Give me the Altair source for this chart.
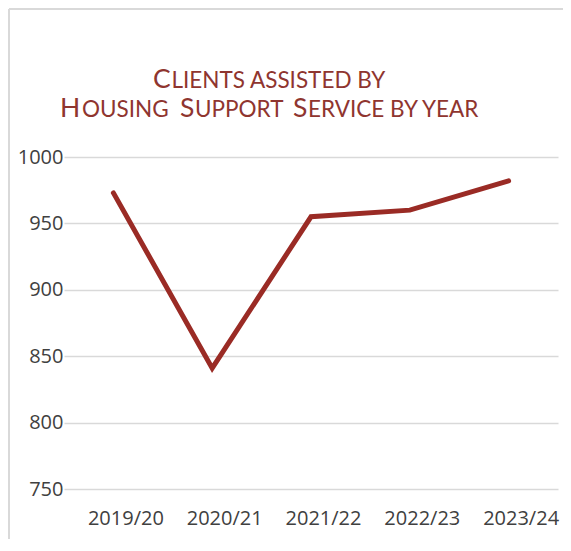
import altair as alt
import pandas as pd

years = ["2019/20", "2020/21", "2021/22", "2022/23", "2023/24"]
clients = [973, 841, 955, 960, 982]
y_ticks = [750, 800, 850, 900, 950, 1000]

TITLE_COLOR = "#8f352f"
LINE_COLOR = "#9a2b25"
GRID = "#d9d9d9"

df = pd.DataFrame({"year": years, "clients": clients})
one = pd.DataFrame({"k": [0]})

W, H = 494, 332

line = alt.Chart(df).mark_line(
    color=LINE_COLOR, strokeWidth=5, strokeCap="round"
).encode(
    x=alt.X("year:N", sort=years, scale=alt.Scale(padding=0.5),
            axis=alt.Axis(title=None, labelAngle=0, grid=False, domain=False,
                          ticks=False, labelPadding=19, labelOffset=12,
                          labelFont="Open Sans", labelFontSize=20,
                          labelColor="#404040")),
    y=alt.Y("clients:Q", scale=alt.Scale(domain=[750, 1000], nice=False, zero=False),
            axis=alt.Axis(title=None, values=y_ticks, format="d", grid=True,
                          gridColor=GRID, gridWidth=1.5, domain=False, ticks=False,
                          labelPadding=1, labelFont="Open Sans", labelFontSize=20,
                          labelColor="#404040")),
)

# title written in small caps: large initials + smaller capitals
BIG, SMALL = 26.5, 22.5
L1, L2 = -68.7, -40.3
segments = [
    ("C", BIG, 89, L1),
    ("LIENTS ASSISTED BY", SMALL, 107.5, L1),
    ("H", BIG, -4, L2),
    ("OUSING", SMALL, 18, L2),
    ("S", BIG, 116, L2),
    ("UPPORT", SMALL, 131, L2),
    ("S", BIG, 229, L2),
    ("ERVICE BY YEAR", SMALL, 244, L2),
]
title_layers = [
    alt.Chart(one).mark_text(
        text=t, font="Lato", fontSize=s, color=TITLE_COLOR,
        align="left", baseline="alphabetic"
    ).encode(x=alt.value(x), y=alt.value(y))
    for t, s, x, y in segments
]

frame_top = alt.Chart(one).mark_rule(color=GRID, strokeWidth=2).encode(
    x=alt.value(-55), x2=alt.value(600), y=alt.value(-148)
)
frame_left = alt.Chart(one).mark_rule(color=GRID, strokeWidth=2).encode(
    x=alt.value(-55), y=alt.value(-148), y2=alt.value(600)
)

chart = alt.layer(frame_top, frame_left, line, *title_layers).properties(
    width=W, height=H,
    autosize=alt.AutoSizeParams(type="none"),
    padding={"left": 56, "top": 149, "right": 5, "bottom": 50},
    background="white",
).configure_view(stroke=None)

chart.save("out.html", embed_options={"renderer": "svg", "actions": False})
